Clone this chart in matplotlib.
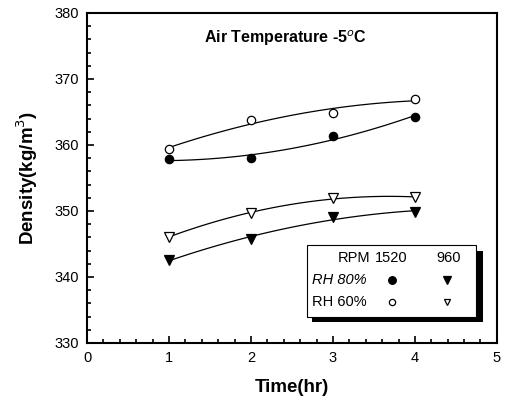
import matplotlib
matplotlib.use("Agg")
import matplotlib.pyplot as plt
import numpy as np
from matplotlib.patches import Rectangle
from matplotlib.ticker import MultipleLocator

plt.rcParams['font.family'] = ['Liberation Sans', 'DejaVu Sans']

# time (hr)
time_hr = [1, 2, 3, 4]
# density (kg/m3)
rh80_1520 = [357.8, 358.0, 361.3, 364.3]
rh60_1520 = [359.4, 363.8, 364.9, 366.9]
rh80_960 = [342.6, 345.7, 349.1, 349.9]
rh60_960 = [346.1, 349.7, 351.9, 352.1]

series = [
    (rh80_1520, 'o', 'black', 6),
    (rh60_1520, 'o', 'white', 6),
    (rh80_960, 'v', 'black', 6.5),
    (rh60_960, 'v', 'white', 6.5),
]

fig = plt.figure(figsize=(5.06, 4.04), dpi=100)
ax = fig.add_axes([0.172, 0.151, 0.810, 0.817])

x = np.array(time_hr, dtype=float)
xs = np.linspace(1, 4, 100)
for vals, mk, fc, ms in series:
    # smooth fitted curve like the original
    coef = np.polyfit(x, vals, 2)
    ax.plot(xs, np.polyval(coef, xs), color='black', lw=0.9, zorder=2)
    ax.plot(x, vals, ls='none', marker=mk, ms=ms, mfc=fc, mec='black', mew=0.9, zorder=3)

ax.set_xlim(0, 5)
ax.set_ylim(330, 380)
ax.xaxis.set_major_locator(MultipleLocator(1))
ax.xaxis.set_minor_locator(MultipleLocator(0.2))
ax.yaxis.set_major_locator(MultipleLocator(10))
ax.yaxis.set_minor_locator(MultipleLocator(2))
ax.tick_params(which='both', direction='in', top=False, right=False, labelsize=10.5, width=1.2)
ax.tick_params(which='major', length=5, pad=6)
ax.tick_params(which='minor', length=3)
for s in ax.spines.values():
    s.set_linewidth(1.5)

ax.set_xlabel('Time(hr)', fontsize=13.5, fontweight='bold', labelpad=10)
ax.set_ylabel('Density(kg/m$^3$)', fontsize=13.5, fontweight='bold', labelpad=10)

ax.text(2.42, 376.2, 'Air Temperature -5$^o$C', fontsize=11.5, fontweight='bold',
        ha='center', va='center')

# legend drawn as a small table with a shadow
tr = fig.transFigure
W, H = 506, 404
def fx(px):
    return px / W
def fy(py):
    return 1 - py / H

fig.patches.append(Rectangle((fx(312), fy(322)), fx(483) - fx(312), fy(251) - fy(322),
                             transform=tr, fc='black', ec='none', zorder=4))
fig.patches.append(Rectangle((fx(307), fy(317)), fx(476) - fx(307), fy(245) - fy(317),
                             transform=tr, fc='white', ec='black', lw=0.8, zorder=5))

fs = 10.5
fig.text(fx(370), fy(258), 'RPM', fontsize=fs, ha='right', va='center', zorder=6)
fig.text(fx(391), fy(258), '1520', fontsize=fs, ha='center', va='center', zorder=6)
fig.text(fx(449), fy(258), '960', fontsize=fs, ha='center', va='center', zorder=6)
fig.text(fx(312), fy(280), 'RH 80%', fontsize=fs, style='italic', ha='left', va='center', zorder=6)
fig.text(fx(312), fy(302), 'RH 60%', fontsize=fs, ha='left', va='center', zorder=6)

legend_rows = [(280, 'black'), (302, 'white')]
for py, fc in legend_rows:
    fig.lines.append(plt.Line2D([fx(392)], [fy(py)], marker='o', ms=5.5 if fc == 'black' else 4.5,
                                mfc=fc, mec='black', mew=0.9, transform=tr, zorder=6))
    fig.lines.append(plt.Line2D([fx(447)], [fy(py)], marker='v', ms=6 if fc == 'black' else 5,
                                mfc=fc, mec='black', mew=0.9, transform=tr, zorder=6))

fig.savefig('out.png', dpi=100)
